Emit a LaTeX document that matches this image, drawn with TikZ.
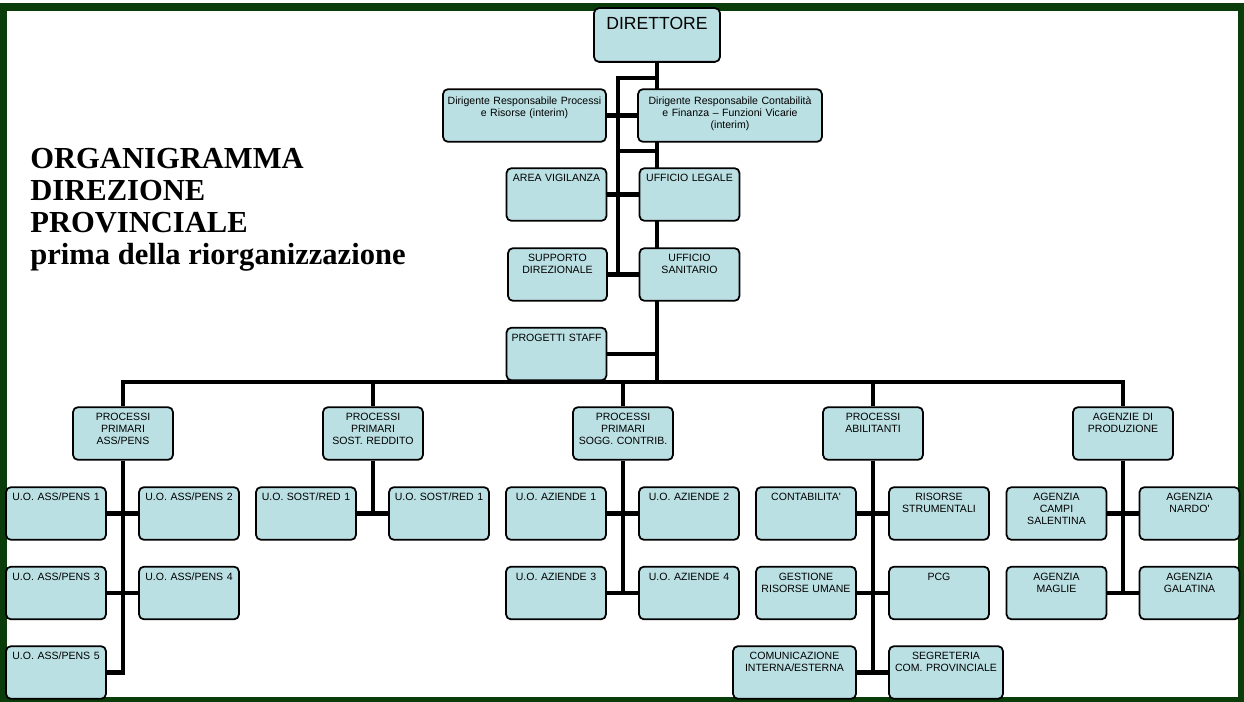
\documentclass[tikz,border=0pt]{standalone}
\usepackage{fontspec}
\setmainfont{Liberation Serif}
\newfontfamily\arialfont{Liberation Sans}
\usetikzlibrary{backgrounds}
\definecolor{boxblue}{HTML}{BBE0E3}
\definecolor{framegreen}{HTML}{0B3D0B}
\tikzset{
  box/.style={draw, fill=boxblue, rounded corners=0.1cm, line width=1pt, text width=2cm, align=center,
    font=\arialfont\fontsize{6}{6.8}\selectfont, inner xsep=0pt, inner ysep=3.4pt, text height=4.3pt, text depth=18.9pt},
  dirbox/.style={box, inner ysep=4.6pt, text depth=16.5pt},
  topbox/.style={box, font=\arialfont\fontsize{10}{12}\selectfont, inner ysep=5pt, text height=7.2pt, text depth=13.4pt},
  bus/.style={line width=2.8pt},
  thinbus/.style={line width=2pt}
}
\begin{document}
\begin{tikzpicture}[x=0.02cm, y=-0.02cm]
\useasboundingbox (0,0) rectangle (1244,702);
\node[anchor=base west, align=left, inner sep=0pt, font=\fontsize{17.4}{18.4}\selectfont\bfseries] (title) at (30,265)
  {ORGANIGRAMMA\\DIREZIONE\\PROVINCIALE\\prima della riorganizzazione};
% vertice
\node[topbox, text width=2.52cm] (dir) at (657,35) {DIRETTORE};
\node[dirbox, text width=3.26cm] (dirpr) at (524.5,115.5) {Dirigente Responsabile Processi\\e Risorse (interim)};
\node[dirbox, text width=3.68cm] (dircf) at (730,115.5) {Dirigente Responsabile Contabilità\\e Finanza – Funzioni Vicarie\\(interim)};
\node[box] (areavig) at (556.5,194.5) {AREA VIGILANZA};
\node[box] (uffleg) at (689.5,194.5) {UFFICIO LEGALE};
\node[box, text width=1.98cm] (suppdir) at (557.5,274.5) {SUPPORTO\\DIREZIONALE};
\node[box] (uffsan) at (689.5,274.5) {UFFICIO\\SANITARIO};
\node[box] (progstaff) at (556.5,354) {PROGETTI STAFF};
\coordinate (lt) at (618,78);
\coordinate (mid) at (618,151);
\coordinate (busy) at (0,382);
% processi
\node[box] (pp1) at (123,433.5) {PROCESSI\\PRIMARI\\ASS/PENS};
\node[box] (pp2) at (373,433.5) {PROCESSI\\PRIMARI\\SOST. REDDITO};
\node[box] (pp3) at (623,433.5) {PROCESSI\\PRIMARI\\SOGG. CONTRIB.};
\node[box] (pp4) at (873,433.5) {PROCESSI\\ABILITANTI};
\node[box] (ag) at (1123,433.5) {AGENZIE DI\\PRODUZIONE};
% uffici
\node[box] (ass1) at (56,513.5) {U.O. ASS/PENS 1};
\node[box] (ass2) at (189,513.5) {U.O. ASS/PENS 2};
\node[box] (ass3) at (56,593) {U.O. ASS/PENS 3};
\node[box] (ass4) at (189,593) {U.O. ASS/PENS 4};
\node[box] (ass5) at (56,672.5) {U.O. ASS/PENS 5};
\node[box] (sost1) at (306,513.5) {U.O. SOST/RED 1};
\node[box] (sost2) at (439,513.5) {U.O. SOST/RED 1};
\node[box] (az1) at (556,513.5) {U.O. AZIENDE 1};
\node[box] (az2) at (689,513.5) {U.O. AZIENDE 2};
\node[box] (az3) at (556,593) {U.O. AZIENDE 3};
\node[box] (az4) at (689,593) {U.O. AZIENDE 4};
\node[box] (contab) at (806,513.5) {CONTABILITA'};
\node[box] (risstr) at (939,513.5) {RISORSE\\STRUMENTALI};
\node[box] (gestru) at (806,593) {GESTIONE\\RISORSE UMANE};
\node[box] (pcg) at (939,593) {PCG};
\node[box, text width=2.46cm] (comun) at (794.5,672.5) {COMUNICAZIONE\\INTERNA/ESTERNA};
\node[box, text width=2.28cm] (segr) at (946,672.5) {SEGRETERIA\\COM. PROVINCIALE};
\node[box] (agcampi) at (1056.5,513.5) {AGENZIA\\CAMPI\\SALENTINA};
\node[box] (agnardo) at (1189.5,513.5) {AGENZIA\\NARDO'};
\node[box] (agmaglie) at (1056.5,593) {AGENZIA\\MAGLIE};
\node[box] (aggalatina) at (1189.5,593) {AGENZIA\\GALATINA};
\begin{scope}[on background layer]
\draw[framegreen, line width=4pt] (3.5,7) rectangle (1241.5,700.5);
\draw[bus] (dir.south) -- (dir.south |- busy);
\draw[bus] (dir.south |- lt) -- (lt) -- (lt |- suppdir);
\draw[bus] (mid) -- (mid -| dir.south);
\draw[bus] (dirpr) -- (dircf);
\draw[bus] (areavig) -- (uffleg);
\draw[bus] (suppdir) -- (uffsan);
\draw[thinbus] (progstaff) -- (progstaff -| dir.south);
\draw[bus] (pp1) -- (pp1 |- busy) -- (ag |- busy) -- (ag);
\draw[bus] (pp2) -- (pp2 |- busy);
\draw[bus] (pp3) -- (pp3 |- busy);
\draw[bus] (pp4) -- (pp4 |- busy);
\draw[bus] (pp1) -- (pp1 |- ass5) -- (ass5);
\draw[bus] (ass1) -- (ass2);
\draw[bus] (ass3) -- (ass4);
\draw[bus] (pp2) -- (pp2 |- sost1);
\draw[bus] (sost1) -- (sost2);
\draw[bus] (pp3) -- (pp3 |- az3);
\draw[bus] (az1) -- (az2);
\draw[bus] (az3) -- (az4);
\draw[bus] (pp4) -- (pp4 |- comun);
\draw[bus] (contab) -- (risstr);
\draw[bus] (gestru) -- (pcg);
\draw[bus] (comun) -- (segr);
\draw[bus] (ag) -- (ag |- agmaglie);
\draw[bus] (agcampi) -- (agnardo);
\draw[bus] (agmaglie) -- (aggalatina);
\end{scope}
\end{tikzpicture}
\end{document}
